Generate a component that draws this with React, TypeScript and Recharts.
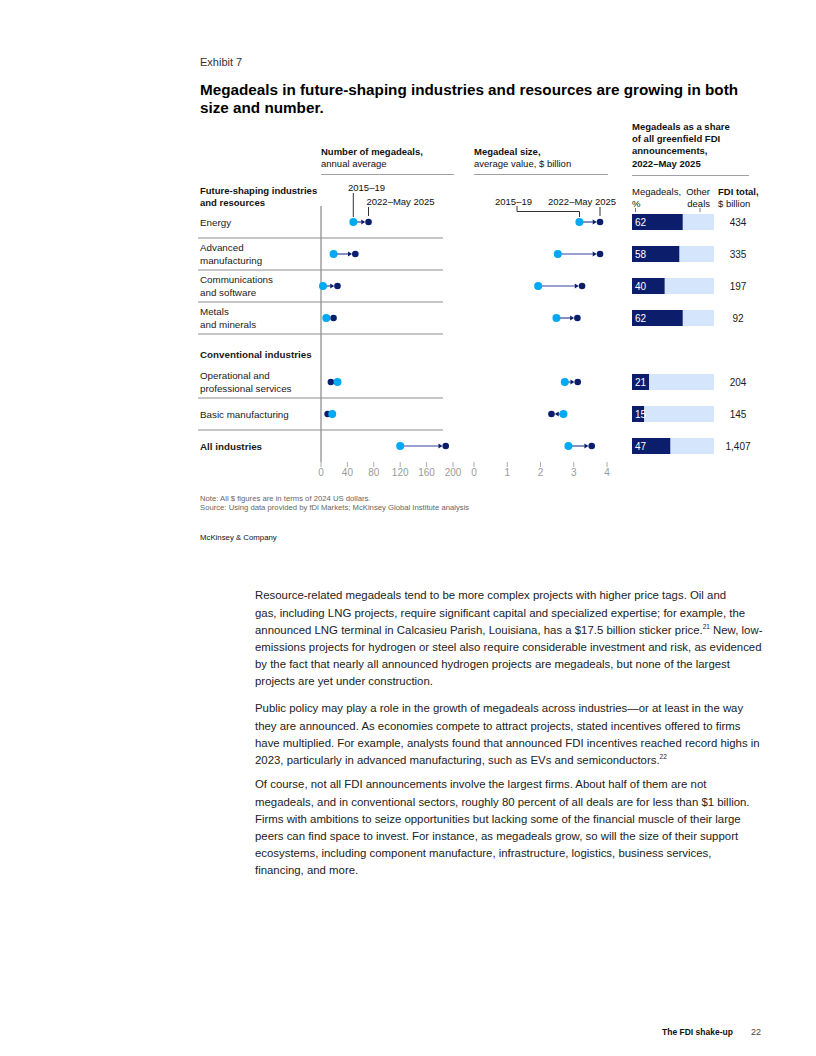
import React from "react";
import {
  ComposedChart,
  Bar,
  Line,
  XAxis,
  YAxis,
  LabelList,
} from "recharts";

// Rows, top to bottom (the "Conventional industries" slot is a header row with no data)
const categories = [
  "Energy",
  "Advanced manufacturing",
  "Communications and software",
  "Metals and minerals",
  "Conventional industries",
  "Operational and professional services",
  "Basic manufacturing",
  "All industries",
];
const labelLines = [
  ["Energy"],
  ["Advanced", "manufacturing"],
  ["Communications", "and software"],
  ["Metals", "and minerals"],
  ["Conventional industries"],
  ["Operational and", "professional services"],
  ["Basic manufacturing"],
  ["All industries"],
];
const boldRows = ["Conventional industries", "All industries"];
const sepAfter = [true, true, true, true, false, true, true, false];

// Number of megadeals, annual average
const countBefore = [49, 19, 3, 8, null, 25, 17, 120];
const countAfter = [72, 52, 25, 19, null, 15, 10, 189];
const countTicks = [0, 40, 80, 120, 160, 200];

// Megadeal size, average value, $ billion
const sizeBefore = [3.17, 2.52, 1.93, 2.48, null, 2.73, 2.69, 2.84];
const sizeAfter = [3.79, 3.79, 3.25, 3.11, null, 3.12, 2.33, 3.54];
const sizeTicks = [0, 1, 2, 3, 4];

// Megadeals share of greenfield FDI, %, and FDI total, $ billion
const megaShare = [62, 58, 40, 62, null, 21, 15, 47];
const fdiTotal = [434, 335, 197, 92, null, 204, 145, 1407];

const rows = categories.map((name, i) => ({
  name,
  cb: countBefore[i],
  ca: countAfter[i],
  sb: sizeBefore[i],
  sa: sizeAfter[i],
  mega: megaShare[i],
  other: megaShare[i] == null ? null : 100 - (megaShare[i] as number),
  total: fdiTotal[i],
}));

const FONT = '"Liberation Sans", Arial, Helvetica, sans-serif';
const LIGHT = "#00a9f4";
const DARK = "#0b1d6b";
const CONNECT = "#33449c";
const BAR_LIGHT = "#d5e5fb";
const GRID = "#8c8c8c";
const TICK_TXT = "#9a9a9a";

const CHART_TOP = 190;
const CHART_H = 300;
const M_TOP = 16;
const X_AXIS_H = 28;
const PLOT_H = CHART_H - M_TOP - X_AXIS_H;
const SLOT = PLOT_H / categories.length;
const R_LIGHT = 4;
const R_DARK = 3.3;

function makeConnector(bk: string, ak: string) {
  return (p: any) => {
    const { x, y, width, height, payload } = p;
    if (!payload || payload[bk] == null || payload[ak] == null) return <g />;
    const lo = Math.min(x, x + width);
    const hi = Math.max(x, x + width);
    const up = payload[ak] >= payload[bk];
    const dir = up ? 1 : -1;
    const start = up ? lo : hi;
    const end = up ? hi : lo;
    const cy = y + height / 2;
    const tip = end - dir * R_DARK;
    const base = tip - dir * 4;
    return (
      <g>
        <line x1={start} y1={cy} x2={base} y2={cy} stroke={CONNECT} strokeWidth={1.2} />
        <path d={`M${tip},${cy} L${base},${cy - 2.4} L${base},${cy + 2.4} Z`} fill={DARK} />
      </g>
    );
  };
}

function makeTick(withLabels: boolean, sepX1: number, sepX2: number) {
  return (p: any) => {
    const { y, payload } = p;
    const i = categories.indexOf(payload.value);
    if (i < 0) return <g />;
    const lines = labelLines[i];
    const bold = boldRows.includes(payload.value);
    const lh = 13;
    const shift = payload.value === "Conventional industries" ? 4 : 0;
    const y0 = y + shift - ((lines.length - 1) * lh) / 2;
    return (
      <g>
        {withLabels &&
          lines.map((l, k) => (
            <text
              key={k}
              x={2}
              y={y0 + k * lh + 3.5}
              fontSize={9.8}
              fill="#1a1a1a"
              fontWeight={bold ? 700 : 400}
            >
              {l}
            </text>
          ))}
        {sepAfter[i] && (
          <line x1={sepX1} x2={sepX2} y1={y + SLOT / 2} y2={y + SLOT / 2} stroke={GRID} strokeWidth={1} />
        )}
      </g>
    );
  };
}

function Dumbbell(props: {
  left: number;
  width: number;
  yWidth: number;
  marginLeft: number;
  marginRight: number;
  domain: [number, number];
  ticks: number[];
  bk: string;
  ak: string;
  withLabels: boolean;
  sepX1: number;
  sepX2: number;
}) {
  const { left, width, yWidth, marginLeft, marginRight, domain, ticks, bk, ak } = props;
  return (
    <div style={{ position: "absolute", left, top: CHART_TOP }}>
      <ComposedChart
        width={width}
        height={CHART_H}
        data={rows}
        layout="vertical"
        margin={{ top: M_TOP, right: marginRight, bottom: 0, left: marginLeft }}
      >
        <XAxis
          type="number"
          domain={domain}
          ticks={ticks}
          height={X_AXIS_H}
          axisLine={false}
          tickLine={{ stroke: "#aaa" }}
          tickSize={5}
          tick={{ fontSize: 10, fill: TICK_TXT }}
          interval={0}
        />
        <YAxis
          type="category"
          dataKey="name"
          width={yWidth}
          axisLine={{ stroke: "#6e6e6e" }}
          tickLine={false}
          interval={0}
          tick={makeTick(props.withLabels, props.sepX1, props.sepX2)}
        />
        <Bar
          dataKey={(d: any) => (d[bk] == null ? null : [d[bk], d[ak]])}
          barSize={6}
          shape={makeConnector(bk, ak)}
          isAnimationActive={false}
        />
        <Line
          dataKey={ak}
          stroke="none"
          dot={{ r: R_DARK, fill: DARK, stroke: "none" }}
          activeDot={false}
          isAnimationActive={false}
        />
        <Line
          dataKey={bk}
          stroke="none"
          dot={{ r: R_LIGHT, fill: LIGHT, stroke: "none" }}
          activeDot={false}
          isAnimationActive={false}
        />
      </ComposedChart>
    </div>
  );
}

const TotalLabel = (p: any) => {
  const vb = p.viewBox ?? p;
  const x = vb.x ?? p.x;
  const y = vb.y ?? p.y;
  const w = vb.width ?? p.width;
  const h = vb.height ?? p.height;
  if (p.value == null || x == null) return null;
  return (
    <text x={x + w + 24} y={y + h / 2 + 3.5} textAnchor="middle" fontSize={10} fill="#1a1a1a">
      {Number(p.value).toLocaleString("en-US")}
    </text>
  );
};

function ShareBars() {
  return (
    <div style={{ position: "absolute", left: 620, top: CHART_TOP }}>
      <ComposedChart
        width={144}
        height={CHART_H}
        data={rows}
        layout="vertical"
        margin={{ top: M_TOP, right: 50, bottom: X_AXIS_H, left: 12 }}
      >
        <XAxis type="number" domain={[0, 100]} hide />
        <YAxis
          type="category"
          dataKey="name"
          width={0}
          tick={false}
          tickLine={false}
          axisLine={{ stroke: "#c6c6c6", strokeWidth: 2 }}
        />
        <Bar dataKey="mega" stackId="s" fill={DARK} barSize={16} isAnimationActive={false}>
          <LabelList dataKey="mega" position="insideLeft" offset={3} fill="#fff" fontSize={10} />
        </Bar>
        <Bar dataKey="other" stackId="s" fill={BAR_LIGHT} barSize={16} isAnimationActive={false}>
          <LabelList dataKey="total" content={TotalLabel} />
        </Bar>
      </ComposedChart>
    </div>
  );
}

const abs = (left: number, top: number, extra: React.CSSProperties = {}): React.CSSProperties => ({
  position: "absolute",
  left,
  top,
  whiteSpace: "nowrap",
  ...extra,
});

const hdr: React.CSSProperties = { fontSize: 9.5, lineHeight: "12.3px", color: "#111" };

const para1 = [
  "Resource-related megadeals tend to be more complex projects with higher price tags. Oil and",
  "gas, including LNG projects, require significant capital and specialized expertise; for example, the",
  "announced LNG terminal in Calcasieu Parish, Louisiana, has a $17.5 billion sticker price.|21| New, low-",
  "emissions projects for hydrogen or steel also require considerable investment and risk, as evidenced",
  "by the fact that nearly all announced hydrogen projects are megadeals, but none of the largest",
  "projects are yet under construction.",
];
const para2 = [
  "Public policy may play a role in the growth of megadeals across industries\u2014or at least in the way",
  "they are announced. As economies compete to attract projects, stated incentives offered to firms",
  "have multiplied. For example, analysts found that announced FDI incentives reached record highs in",
  "2023, particularly in advanced manufacturing, such as EVs and semiconductors.|22|",
];
const para3 = [
  "Of course, not all FDI announcements involve the largest firms. About half of them are not",
  "megadeals, and in conventional sectors, roughly 80 percent of all deals are for less than $1 billion.",
  "Firms with ambitions to seize opportunities but lacking some of the financial muscle of their large",
  "peers can find space to invest. For instance, as megadeals grow, so will the size of their support",
  "ecosystems, including component manufacture, infrastructure, logistics, business services,",
  "financing, and more.",
];

function BodyLine({ text }: { text: string }) {
  const parts = text.split("|");
  return (
    <div>
      {parts.map((p, i) =>
        i % 2 === 1 ? (
          <sup key={i} style={{ fontSize: 6.5, lineHeight: 0, verticalAlign: "5px" }}>
            {p}
          </sup>
        ) : (
          <span key={i}>{p}</span>
        )
      )}
    </div>
  );
}

function Para({ lines, top }: { lines: string[]; top: number }) {
  return (
    <div style={abs(255, top, { fontSize: 11.4, lineHeight: "17.2px", color: "#222" })}>
      {lines.map((l, i) => (
        <BodyLine key={i} text={l} />
      ))}
    </div>
  );
}

export default function App() {
  return (
    <div
      style={{
        position: "absolute",
        left: 0,
        top: 0,
        width: 816,
        height: 1056,
        background: "#fff",
        fontFamily: FONT,
        color: "#111",
      }}
    >
      <div style={abs(200, 55.5, { fontSize: 11, lineHeight: "13px", color: "#333" })}>Exhibit 7</div>
      <div style={abs(200, 81, { fontSize: 15.25, lineHeight: "18px", fontWeight: 700, color: "#000" })}>
        Megadeals in future-shaping industries and resources are growing in both
        <br />
        size and number.
      </div>

      {/* panel headers */}
      <div style={abs(321, 145.8, hdr)}>
        <b>Number of megadeals,</b>
        <br />
        annual average
      </div>
      <div style={abs(474, 145.8, hdr)}>
        <b>Megadeal size,</b>
        <br />
        average value, $ billion
      </div>
      <div style={abs(632, 120.9, { ...hdr, fontWeight: 700 })}>
        Megadeals as a share
        <br />
        of all greenfield FDI
        <br />
        announcements,
        <br />
        2022–May 2025
      </div>
      <div style={abs(321, 174, { width: 133, borderTop: "1px solid #a0a0a0" })} />
      <div style={abs(474, 174, { width: 134, borderTop: "1px solid #a0a0a0" })} />
      <div style={abs(632, 175, { width: 117, borderTop: "1px solid #a0a0a0" })} />

      <div style={abs(200, 184.8, { ...hdr, fontWeight: 700 })}>
        Future-shaping industries
        <br />
        and resources
      </div>
      <div style={abs(632, 185.8, hdr)}>
        Megadeals,
        <br />%
      </div>
      <div style={abs(680, 185.8, { ...hdr, width: 30, textAlign: "right" })}>
        Other
        <br />
        deals
      </div>
      <div style={abs(718, 185.8, hdr)}>
        <b>FDI total,</b>
        <br />$ billion
      </div>

      {/* annotations */}
      <svg style={{ position: "absolute", left: 0, top: 0, overflow: "visible" }} width={816} height={240}>
        <g stroke="#333" strokeWidth={1} fill="none">
          <line x1={353.3} x2={353.3} y1={193} y2={217} />
          <line x1={368.5} x2={368.5} y1={207} y2={216} />
          <path d="M517,206 L517,211.5 L579.5,211.5 L579.5,217" />
          <line x1={600} x2={600} y1={207} y2={216} />
        </g>
        <g stroke="#777" strokeWidth={1}>
          <line x1={635.5} x2={635.5} y1={208} y2={212} />
          <line x1={700} x2={700} y1={208} y2={212} />
        </g>
      </svg>
      <div style={abs(348, 181.5, hdr)}>2015–19</div>
      <div style={abs(366.5, 196.3, hdr)}>2022–May 2025</div>
      <div style={abs(495, 196, hdr)}>2015–19</div>
      <div style={abs(548, 196, hdr)}>2022–May 2025</div>

      <Dumbbell
        left={198}
        width={265}
        yWidth={123}
        marginLeft={0}
        marginRight={10}
        domain={[0, 200]}
        ticks={countTicks}
        bk="cb"
        ak="ca"
        withLabels
        sepX1={0}
        sepX2={245}
      />
      <Dumbbell
        left={460}
        width={160}
        yWidth={0}
        marginLeft={14}
        marginRight={13}
        domain={[0, 4]}
        ticks={sizeTicks}
        bk="sb"
        ak="sa"
        withLabels={false}
        sepX1={14}
        sepX2={144}
      />
      <ShareBars />

      <div style={abs(200, 494, { fontSize: 7.7, lineHeight: "9px", color: "#666" })}>
        Note: All $ figures are in terms of 2024 US dollars.
        <br />
        Source: Using data provided by fDi Markets; McKinsey Global Institute analysis
      </div>
      <div style={abs(200, 533, { fontSize: 7.8, lineHeight: "10px", color: "#111" })}>McKinsey &amp; Company</div>

      <Para lines={para1} top={587.4} />
      <Para lines={para2} top={700.4} />
      <Para lines={para3} top={776.4} />

      <div style={abs(662, 1027, { fontSize: 8.5, lineHeight: "11px", fontWeight: 700, color: "#111" })}>
        The FDI shake-up
      </div>
      <div style={abs(751, 1027, { fontSize: 9, lineHeight: "11px", color: "#444" })}>22</div>
    </div>
  );
}
